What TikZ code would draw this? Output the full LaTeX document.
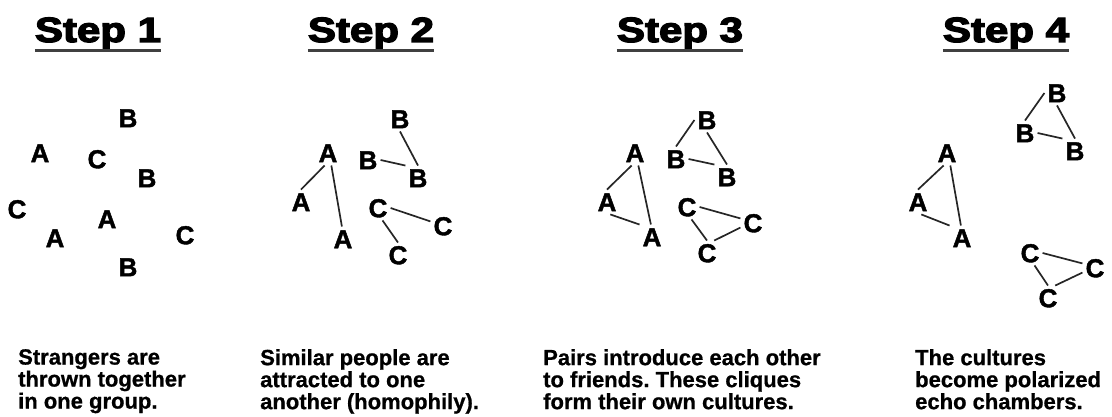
\documentclass[tikz,border=0pt]{standalone}
\usepackage{fontspec}
\setmainfont{Liberation Sans}
\frenchspacing
\begin{document}
\begin{tikzpicture}[x=1pt,y=-1pt,
  ltr/.style={font=\bfseries\addfontfeature{FakeBold=1.6}\fontsize{26}{26}\selectfont, inner sep=3pt, text height=18.5pt, text depth=0pt},
  edge/.style={line width=1.7pt, black!85},
  head/.style={font=\bfseries\addfontfeature{FakeBold=3.5}\fontsize{35}{35}\selectfont, inner sep=0pt, anchor=base},
  uline/.style={line width=3pt, black!75},
  body/.style={font=\bfseries\addfontfeature{FakeBold=0.8}\fontsize{22}{22}\selectfont, align=left, anchor=north west, inner sep=0pt}]
\useasboundingbox (0,0) rectangle (1112,417);

% headings
\node[head] (h1) at (98,42) {\scalebox{1.2}[1]{Step 1}};
\node[head] (h2) at (371,42) {\scalebox{1.2}[1]{Step 2}};
\node[head] (h3) at (680,42) {\scalebox{1.2}[1]{Step 3}};
\node[head] (h4) at (1006,42) {\scalebox{1.2}[1]{Step 4}};
\foreach \h in {h1,h2,h3,h4}
  \draw[uline] ([yshift=-9pt]\h.base west) -- ([yshift=-9pt]\h.base east);

% step 1
\node[ltr] (a1b1) at (128,118) {B};
\node[ltr] (a1a1) at (40,153) {A};
\node[ltr] (a1c1) at (97,159) {C};
\node[ltr] (a1b2) at (147,178) {B};
\node[ltr] (a1c2) at (17,209) {C};
\node[ltr] (a1a2) at (107,219) {A};
\node[ltr] (a1a3) at (55,238) {A};
\node[ltr] (a1c3) at (185,235) {C};
\node[ltr] (a1b3) at (128,267) {B};

% step 2
\node[ltr] (s2at) at (328,153) {A};
\node[ltr] (s2al) at (301,202) {A};
\node[ltr] (s2ab) at (343,239) {A};
\node[ltr] (s2bt) at (400,119) {B};
\node[ltr] (s2bl) at (368,160) {B};
\node[ltr] (s2br) at (418,178) {B};
\node[ltr] (s2c)  at (378,208) {C};
\node[ltr] (s2cr) at (443,226) {C};
\node[ltr] (s2cb) at (398,255) {C};
\draw[edge] (s2at.255) -- (s2al.north);
\draw[edge] (s2at.285) -- (s2ab.95);
\draw[edge] (s2bt.south) -- (s2br.north);
\draw[edge] (s2bl.east) -- (s2br.north west);
\draw[edge] (s2c.east) -- (s2cr.160);
\draw[edge] (s2c.290) -- (s2cb.north);

% step 3
\node[ltr] (s3at) at (635,153) {A};
\node[ltr] (s3al) at (607,202) {A};
\node[ltr] (s3ab) at (652,237) {A};
\node[ltr] (s3bt) at (707,120) {B};
\node[ltr] (s3bl) at (676,159) {B};
\node[ltr] (s3br) at (727,177) {B};
\node[ltr] (s3c)  at (687,207) {C};
\node[ltr] (s3cr) at (753,223) {C};
\node[ltr] (s3cb) at (707,253) {C};
\draw[edge] (s3at.255) -- (s3al.north);
\draw[edge] (s3at.285) -- (s3ab.95);
\draw[edge] (s3al.285) -- (s3ab.135);
\draw[edge] (s3bt.south) -- (s3br.north);
\draw[edge] (s3bl.east) -- (s3br.north west);
\draw[edge] (s3bl.north) -- (s3bt.west);
\draw[edge] (s3c.east) -- (s3cr.160);
\draw[edge] (s3c.290) -- (s3cb.north);
\draw[edge] (s3cr.200) -- (s3cb.60);

% step 4
\node[ltr] (s4at) at (947,153) {A};
\node[ltr] (s4al) at (918,202) {A};
\node[ltr] (s4ab) at (962,238) {A};
\node[ltr] (s4bt) at (1057,93) {B};
\node[ltr] (s4bl) at (1025,133) {B};
\node[ltr] (s4br) at (1075,151) {B};
\node[ltr] (s4c)  at (1030,253) {C};
\node[ltr] (s4cr) at (1095,268) {C};
\node[ltr] (s4cb) at (1048,298) {C};
\draw[edge] (s4at.255) -- (s4al.north);
\draw[edge] (s4at.285) -- (s4ab.95);
\draw[edge] (s4al.285) -- (s4ab.135);
\draw[edge] (s4bt.south) -- (s4br.north);
\draw[edge] (s4bl.east) -- (s4br.north west);
\draw[edge] (s4bl.north) -- (s4bt.west);
\draw[edge] (s4c.east) -- (s4cr.160);
\draw[edge] (s4c.290) -- (s4cb.north);
\draw[edge] (s4cr.200) -- (s4cb.60);

% captions
\node[body] (t1) at (18,349) {Strangers are\\thrown together\\in one group.};
\node[body] (t2) at (260,349) {Similar people are\\attracted to one\\another (homophily).};
\node[body] (t3) at (543,349) {Pairs introduce each other\\to friends. These cliques\\form their own cultures.};
\node[body] (t4) at (915,349) {The cultures\\become polarized\\echo chambers.};
\end{tikzpicture}
\end{document}
